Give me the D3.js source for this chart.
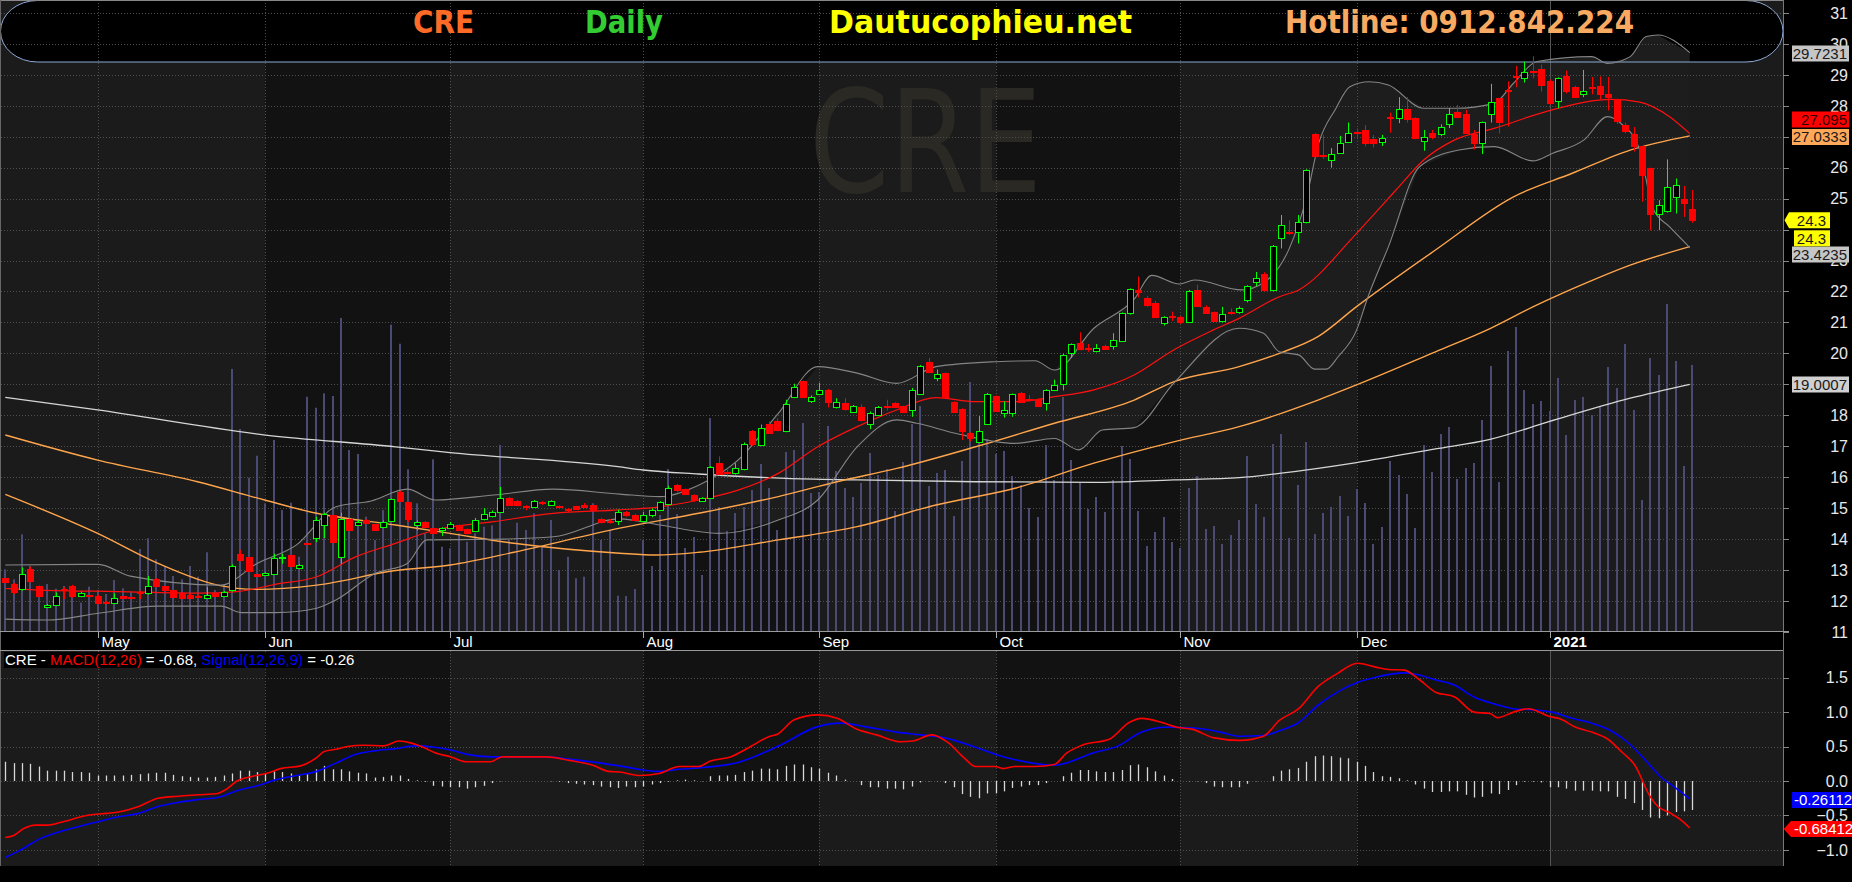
<!DOCTYPE html>
<html>
<head>
<meta charset="utf-8">
<script src="https://cdn.jsdelivr.net/npm/d3@7"></script>
<style>
  html, body { margin: 0; padding: 0; background: #000; overflow: hidden; }
  svg { display: block; }
</style>
</head>
<body>
<div id="chart"></div>
<script>
// ---- data (bar index 0 = mid April 2020) ----
const months = ["May", "Jun", "Jul", "Aug", "Sep", "Oct", "Nov", "Dec", "2021"];
const monthIdx = [11, 31, 53, 76, 97, 118, 140, 161, 184];
// 19, 24 and 27 sit under the value tags, so they are not printed
const priceTicks = [11, 12, 13, 14, 15, 16, 17, 18, 19, 20, 21, 22, 23, 24, 25, 26, 27, 28, 29, 30, 31];
const hiddenTicks = [19, 24, 27];
const macdTicks = [-1.0, -0.5, 0.0, 0.5, 1.0, 1.5];

// [open, high, low, close]
const candles = [
  [12.73,12.80,12.55,12.62],[12.54,12.58,12.22,12.30],[12.38,13.08,12.33,12.87],[13.03,13.10,12.60,12.63],[12.48,12.50,11.95,12.16],
  [11.79,11.90,11.77,11.86],[11.86,12.27,11.84,12.16],[12.38,12.44,12.06,12.36],[12.48,12.52,12.10,12.16],[12.16,12.30,12.12,12.25],
  [12.18,12.22,12.12,12.16],[12.16,12.20,11.90,11.92],[11.95,12.00,11.90,11.93],[11.92,12.24,11.90,12.09],[12.16,12.18,12.05,12.08],
  [12.14,12.18,12.08,12.12],[12.28,12.33,12.06,12.26],[12.24,12.80,12.20,12.48],[12.71,12.73,12.44,12.47],[12.49,12.52,12.32,12.35],
  [12.35,12.37,12.12,12.14],[12.25,12.27,12.06,12.08],[12.20,12.22,12.06,12.08],[12.17,12.20,12.12,12.15],[12.09,12.45,12.07,12.19],
  [12.26,12.28,12.14,12.16],[12.16,12.32,12.14,12.28],[12.35,13.18,12.30,13.13],[13.52,13.65,13.28,13.32],[13.43,13.45,12.92,12.95],
  [12.87,12.95,12.76,12.79],[12.82,12.93,12.80,12.90],[12.87,13.52,12.84,13.39],[13.39,13.52,13.20,13.43],[13.49,13.52,13.10,13.12],
  [13.06,13.19,13.04,13.16],[13.88,13.88,13.20,13.86],[14.03,14.72,13.90,14.60],[14.46,14.85,14.03,14.81],[14.79,14.82,13.88,13.90],
  [13.41,14.85,13.20,14.63],[14.63,14.66,14.26,14.29],[14.46,14.62,14.42,14.55],[14.61,14.64,14.50,14.52],[14.47,14.49,14.27,14.29],
  [14.38,14.60,14.35,14.56],[14.59,15.31,14.56,15.28],[15.51,15.56,15.20,15.22],[15.18,15.20,14.55,14.63],[14.46,14.60,14.28,14.55],
  [14.55,14.58,14.36,14.38],[14.36,14.40,13.90,14.20],[14.29,14.38,14.10,14.36],[14.37,14.55,14.35,14.47],[14.44,14.47,14.26,14.28],
  [14.32,14.34,14.18,14.20],[14.26,14.68,14.24,14.62],[14.63,15.00,14.60,14.81],[14.75,14.92,14.70,14.88],[14.88,15.68,14.86,15.33],
  [15.33,15.36,15.07,15.09],[15.24,15.26,15.08,15.10],[15.07,15.09,14.93,15.05],[15.04,15.26,15.00,15.24],[15.18,15.22,15.10,15.16],
  [15.11,15.25,15.09,15.23],[15.06,15.08,15.02,15.04],[14.98,15.00,14.85,14.96],[15.05,15.07,14.95,14.97],[15.11,15.16,15.00,15.03],
  [15.11,15.13,14.50,14.94],[14.65,14.68,14.50,14.56],[14.58,14.65,14.50,14.56],[14.57,14.95,14.45,14.87],
  [14.86,14.90,14.72,14.76],[14.79,14.81,14.56,14.60],[14.57,14.88,14.55,14.76],[14.78,14.99,14.70,14.95],[14.94,15.22,14.90,15.18],
  [15.13,15.72,15.10,15.65],[15.75,15.78,15.52,15.57],[15.60,15.63,15.43,15.46],[15.41,15.44,15.20,15.27],[15.22,15.35,15.20,15.31],
  [15.33,16.36,15.30,16.33],[16.45,16.67,16.06,16.11],[16.16,16.24,16.05,16.14],[16.13,16.45,16.08,16.30],[16.26,17.12,16.22,17.08],
  [17.49,17.52,17.00,17.06],[17.04,17.70,17.00,17.58],[17.73,17.80,17.40,17.43],[17.81,17.90,17.48,17.53],[17.49,18.50,17.45,18.36],
  [18.59,19.02,18.55,18.92],[19.10,19.12,18.57,18.59],[18.46,18.64,18.40,18.59],[18.70,19.05,18.65,18.83],[18.83,18.85,18.25,18.43],
  [18.27,18.55,18.22,18.44],[18.38,18.55,18.15,18.19],[18.12,18.33,18.10,18.30],[18.25,18.35,17.80,17.84],[17.73,18.12,17.55,18.07],
  [18.02,18.30,18.00,18.27],[18.30,18.50,18.15,18.28],[18.38,18.42,18.25,18.27],[18.29,18.31,18.08,18.11],[18.18,18.88,17.95,18.83],
  [18.70,19.62,18.68,19.59],[19.71,19.85,19.38,19.41],[19.21,19.48,19.10,19.32],[19.35,19.38,18.57,18.59],[18.42,18.45,18.08,18.10],
  [18.19,18.22,17.20,17.49],[17.41,17.44,17.15,17.26],[17.14,17.97,17.10,17.50],[17.73,18.72,17.70,18.70],[18.61,18.64,18.12,18.14],
  [18.07,18.45,17.92,18.16],[18.07,18.70,17.95,18.67],[18.73,18.75,18.40,18.43],[18.52,18.65,18.45,18.50],[18.51,18.54,18.28,18.31],
  [18.41,18.84,18.15,18.81],[18.80,19.15,18.78,18.99],[19.02,19.99,18.80,19.96],[20.00,20.32,19.85,20.29],[20.34,20.68,20.10,20.14],
  [20.16,20.30,20.05,20.14],[20.06,20.30,20.03,20.16],[20.25,20.28,20.12,20.15],[20.25,20.65,20.12,20.42],[20.41,21.32,20.38,21.29],
  [21.31,22.10,21.25,22.07],[22.05,22.48,21.80,21.98],[21.80,21.85,21.50,21.56],[21.64,21.70,21.15,21.18],[20.99,21.20,20.90,21.16],
  [21.22,21.35,21.05,21.20],[21.16,21.20,20.95,21.02],[21.02,22.05,20.98,22.00],[22.05,22.22,21.50,21.54],[21.51,21.55,21.28,21.31],
  [21.32,21.35,21.02,21.05],[21.05,21.50,21.00,21.26],[21.35,21.45,21.25,21.33],[21.34,21.52,21.28,21.45],
  [21.71,22.20,21.65,22.17],[22.31,22.63,22.17,22.45],[22.58,22.62,22.00,22.06],[22.04,23.50,22.00,23.47],[23.74,24.47,23.39,24.16],
  [23.92,24.30,23.82,23.90],[23.91,24.47,23.55,24.23],[24.23,25.95,24.20,25.91],[27.09,27.12,26.35,26.39],[26.41,27.05,26.28,26.39],
  [26.25,26.63,26.00,26.43],[26.49,27.03,26.45,26.81],[26.84,27.46,26.80,27.11],[27.15,27.27,26.92,27.13],[27.22,27.38,26.69,26.81],
  [26.92,27.06,26.65,26.81],[26.84,27.06,26.70,26.97],[27.64,27.78,27.13,27.62],[27.61,28.28,27.44,27.89],[27.89,28.28,27.46,27.57],
  [27.60,27.63,26.92,26.95],[26.86,27.22,26.55,27.00],[27.11,27.22,26.92,26.98],[27.08,27.40,27.02,27.31],[27.41,27.93,27.28,27.72],
  [27.79,28.03,27.60,27.65],[27.72,27.87,27.11,27.13],[27.08,27.22,26.59,26.81],[26.81,27.49,26.44,27.49],[27.74,28.71,27.46,28.11],
  [28.25,28.25,27.11,27.49],[28.51,28.79,27.33,28.49],[28.97,29.29,28.60,28.95],[28.90,29.43,28.75,29.09],[29.11,29.60,28.89,29.09],
  [29.19,29.33,28.46,28.68],[28.81,28.85,28.05,28.08],[28.15,28.92,27.92,28.89],[28.97,29.14,28.40,28.47],[28.60,28.65,28.25,28.28],
  [28.38,29.16,28.28,28.48],[28.62,28.93,28.37,28.60],[28.65,28.95,28.20,28.38],[28.38,28.93,27.85,28.28],[28.21,28.23,27.41,27.51],
  [27.38,27.46,27.11,27.19],[27.09,27.31,26.52,26.70],[26.70,26.70,24.90,25.78],[25.98,26.00,23.98,24.49],[24.49,24.95,23.98,24.78],
  [24.59,26.27,24.55,25.38],[25.06,25.65,24.52,25.44],[24.98,25.41,24.41,24.86],[24.68,25.28,24.22,24.30]
];

// volume, thousand shares
const volume = [
  617,517,967,653,410,470,423,450,443,283, 443,410,370,510,427,393,820,927,717,650,
  550,517,650,543,787,410,470,2620,2020,1533, 1753,1277,1910,1210,1283,743,2343,2233,2377,2350,
  3130,1810,1770,1143,910,1210,3063,2873,1617,1277, 977,1717,843,827,977,893,977,1043,1057,1860,
  910,1083,1010,1177,843,1110,610,743,527,543, 1277,910,1010,353,
  350,420,910,650,1160,1620,1170,830,940,560, 2130,1240,1000,1180,1240,1410,1670,1430,1010,1790,
  1810,2080,1380,1390,2050,1600,1430,1340,1480,1780, 1560,1620,1200,1690,2070,2250,1450,1580,1610,1150,
  1700,2490,1950,1920,1770,1800,1550,1460,1230,1140, 1860,1510,2340,1710,1480,1220,1340,1190,1510,1850,
  1720,1200,850,990,1140,890,830,1430,1550,1020, 1050,870,960,1110,
  1750,1270,1140,1870,1970,930,1460,1890,970,1180, 1240,1350,1150,1420,1280,870,1040,1700,1560,1370,
  1030,1860,1590,1970,2040,1520,1630,1680,2110,2650, 1490,2800,3040,2410,2270,2300,2200,2530,1960,2310,
  2340,2160,2240,2640,2430,2870,2210,1310,2730,2560, 3270,2700,1650,2660
];

// moving averages and Bollinger bands, [bar index, value]
const ma20 = [[0,12.40],[4.1,12.35],[13.5,12.30],[22.9,12.25],[27.6,12.30],[32.3,12.54],[37.1,12.78],[41.8,13.43],[46.5,13.86],
  [51.2,14.29],[58.2,14.56],[65.3,14.83],[73.2,14.94],[78,15.04],[82.6,15.26],[87.3,15.58],[92.1,16.12],[96.8,16.98],
  [101.5,17.63],[106.2,18.17],[110.9,18.57],[115.6,18.44],[120.3,18.44],[125,18.60],[129.7,18.82],[134.5,19.30],
  [139.2,20.11],[143.9,20.75],[147,21.13],[151.8,21.83],[154.1,22.05],[161,23.88],[165.7,25.28],[169,26.25],
  [172.7,26.90],[177.4,27.27],[184.3,27.87],[191.3,28.21],[194.6,28.13],[198.3,27.65],[200.7,27.10]];
const ma50 = [[0,15.44],[11,14.18],[18.2,13.21],[25.3,12.51],[30,12.37],[37.1,12.51],[46.5,12.98],[53,13.16],[60.6,13.57],
  [73.2,14.35],[82.6,14.83],[92.1,15.37],[99.1,15.85],[106.2,16.28],[115.6,16.98],[125,17.74],[134.5,18.49],[139.2,19.08],
  [147,19.57],[151.8,20.00],[156.4,20.54],[161,21.51],[170.4,23.34],[179.7,25.06],[186.7,25.82],[193.6,26.57],[200.7,27.03]];
const ma100 = [[0,17.36],[11,16.55],[22.9,15.85],[30.9,15.26],[37.1,14.83],[46.5,14.45],[53,14.18],[60.6,13.86],[73.2,13.54],
  [77.5,13.48],[82.6,13.57],[92.1,13.97],[101.5,14.40],[110.9,15.10],[120.3,15.64],[129.7,16.45],[139.2,17.14],[147,17.63],
  [156.4,18.49],[161,18.98],[170.4,20.05],[176.9,20.80],[182,21.50],[189,22.35],[193.6,22.85],[200.7,23.45]];
const ma200 = [[0,18.58],[11,18.17],[31,17.36],[46.5,16.98],[53,16.79],[73,16.34],[76,16.23],[82.6,16.10],[93,15.96],
  [101.5,15.91],[115.6,15.85],[129.8,15.83],[139.2,15.91],[147,15.98],[151.8,16.12],[161,16.47],[170.4,16.91],
  [176.9,17.22],[183.9,17.79],[193.6,18.55],[200.7,19.00]];
const bbUpper = [[0,13.16],[11.1,13.18],[14.9,12.80],[25.7,12.51],[30,13.21],[34.7,13.81],[39.4,15.04],[43.6,15.23],[47.9,15.61],
  [51.2,15.26],[58.2,15.42],[65.3,15.61],[73.2,15.45],[78,15.37],[82.6,15.74],[87.3,16.55],[92.1,18.06],[96.8,19.57],
  [101.5,19.36],[106.2,19.03],[110.9,19.57],[118,19.73],[122.7,19.76],[125,19.46],[129.7,20.81],[134.5,21.75],[136.6,22.52],
  [139.9,22.24],[141.7,22.37],[147.3,22.05],[150,22.30],[153,23.40],[155,25.00],[156.5,26.80],[158.5,27.90],[160.2,28.62],
  [162.5,28.78],[164.8,28.67],[169,27.92],[172.7,27.92],[177.4,28.08],[179.7,28.73],[182.5,29.43],[189,29.59],[190.9,29.37],
  [193.6,29.59],[195.5,30.24],[196.9,30.29],[200.7,29.72]];
const bbLower = [[0,11.41],[5,11.38],[11.1,11.60],[18.2,11.83],[25.7,11.83],[28.1,11.62],[32.3,11.62],[37.1,11.76],[39.4,12.03],
  [44.1,12.89],[47.9,13.21],[50.2,13.97],[58.2,13.99],[65.3,14.07],[73.2,14.65],[78,14.45],[85,14.18],[92.1,14.61],
  [96.8,15.26],[101.5,16.98],[106.2,17.85],[108.6,17.74],[113.3,17.41],[120.3,17.09],[125,17.25],[127.9,16.88],[130.7,17.52],
  [134.5,17.60],[139.2,19.03],[147,20.81],[149.9,20.65],[151.8,20.05],[154.1,19.95],[156,19.49],[157.4,19.49],[158.8,19.89],
  [161,20.75],[162.3,21.78],[164.8,23.45],[168.5,26.03],[173.2,26.57],[177.4,26.68],[182,26.22],[184.3,26.46],[188.1,26.90],
  [190.9,27.65],[192.7,27.38],[194.6,26.68],[196.4,24.63],[198.3,24.09],[200.7,23.42]];

// MACD(12,26) and signal(9), [bar index, value]
const macdLine = [[0,-0.82],[1,-0.79],[2.2,-0.69],[3.6,-0.64],[5,-0.64],[6.9,-0.59],[9.7,-0.50],[12.1,-0.47],[13.5,-0.45],
  [15.9,-0.37],[18.2,-0.25],[20.6,-0.22],[22.9,-0.20],[25.3,-0.18],[26.2,-0.13],[27.6,0.00],[29.5,0.07],[31.4,0.12],
  [32.8,0.18],[35.2,0.22],[37.1,0.34],[38,0.43],[39.4,0.46],[40.8,0.50],[42.7,0.52],[45.1,0.51],[46.9,0.58],[48.4,0.55],
  [49.8,0.49],[51.2,0.41],[53.1,0.35],[54.9,0.28],[57.8,0.28],[59.2,0.35],[64.4,0.35],[67.2,0.30],[70,0.23],[71.9,0.14],
  [73.2,0.13],[75.6,0.08],[77.9,0.11],[80.3,0.21],[82.6,0.21],[84,0.29],[86.4,0.35],[88.8,0.50],[91.1,0.65],[92,0.68],
  [94,0.89],[96.8,0.96],[99.1,0.91],[101.5,0.75],[103.8,0.67],[106.7,0.57],[108.1,0.58],[110.4,0.67],[112.3,0.56],
  [114.2,0.34],[115.6,0.21],[117.9,0.21],[118.9,0.18],[120.3,0.21],[122.7,0.21],[125,0.24],[126.4,0.40],[128.3,0.52],
  [131.6,0.61],[133.9,0.85],[135.4,0.91],[137.8,0.85],[139.6,0.78],[141.5,0.75],[143.9,0.63],[147.1,0.59],[149.9,0.65],
  [151.8,0.88],[154.1,1.05],[156.4,1.37],[158.7,1.56],[161.1,1.71],[163.4,1.65],[164.8,1.62],[166.7,1.61],[168.5,1.47],
  [170.4,1.29],[172.7,1.22],[175,1.00],[176.9,0.98],[177.8,0.92],[179.7,1.00],[181.5,1.05],[183.9,0.94],[185.3,0.90],
  [187.1,0.78],[189,0.71],[190.9,0.61],[192.7,0.41],[194.1,0.24],[196,-0.23],[196.9,-0.37],[198.3,-0.46],[199.7,-0.57],
  [200.7,-0.68]];
const signalLine = [[0,-1.11],[1.7,-1.01],[4.1,-0.84],[6.4,-0.74],[8.8,-0.66],[11.1,-0.59],[13.5,-0.52],[15.9,-0.47],
  [18.2,-0.37],[20.6,-0.31],[22.9,-0.27],[25.3,-0.24],[27.6,-0.14],[30,-0.07],[32.3,0.02],[34.7,0.08],[37.1,0.14],
  [39.4,0.26],[41.8,0.39],[44.1,0.44],[46.5,0.47],[48.8,0.51],[51.2,0.49],[53.1,0.45],[54.9,0.39],[57.8,0.35],[64.4,0.35],
  [67.7,0.31],[71,0.26],[73.2,0.22],[76,0.16],[77.9,0.14],[80.3,0.17],[82.6,0.19],[87.3,0.27],[92,0.50],[96.8,0.79],
  [99.6,0.84],[102.4,0.79],[106.2,0.71],[109,0.67],[111.8,0.63],[115.6,0.49],[117.9,0.39],[120.3,0.31],[125,0.23],
  [129.7,0.41],[132.6,0.51],[135.4,0.71],[138.2,0.78],[141.5,0.77],[144.8,0.71],[147.1,0.65],[149.9,0.66],[151.8,0.73],
  [154.1,0.85],[156.4,1.10],[158.7,1.29],[161.1,1.43],[163.4,1.51],[166.7,1.57],[168,1.55],[170.4,1.47],[172.7,1.39],
  [175,1.22],[177.4,1.12],[179.7,1.05],[182.5,1.03],[184.3,1.00],[186.7,0.91],[189,0.84],[191.3,0.73],[193.6,0.53],
  [195.5,0.29],[197.4,0.04],[198.8,-0.08],[200.7,-0.26]];
// MACD histogram, one per bar
const hist = [
  0.28,0.26,0.26,0.25,0.21,0.15,0.15,0.15,0.13,0.13, 0.12,0.08,0.08,0.08,0.08,0.09,0.10,0.11,0.12,0.12,
  0.09,0.07,0.06,0.05,0.05,0.06,0.08,0.11,0.15,0.15, 0.13,0.11,0.14,0.13,0.11,0.08,0.11,0.17,0.22,0.17,
  0.17,0.14,0.12,0.11,0.05,0.06,0.08,0.08,0.03,0.01, -0.01,-0.07,-0.08,-0.09,-0.09,-0.11,-0.09,-0.07,-0.03,-0.005,
  0,0,0,0,0,-0.005,-0.01,-0.03,-0.04,-0.05, -0.06,-0.08,-0.09,-0.10,
  -0.08,-0.09,-0.08,-0.05,-0.03,-0.01,0.01,0.02,0.01,-0.005, 0.07,0.08,0.08,0.09,0.13,0.15,0.18,0.18,0.17,0.22,
  0.24,0.24,0.20,0.18,0.12,0.08,0.02,0,-0.06,-0.09, -0.09,-0.11,-0.11,-0.12,-0.08,-0.02,-0.005,-0.005,-0.03,-0.09,
  -0.19,-0.23,-0.25,-0.18,-0.18,-0.15,-0.10,-0.08,-0.06,-0.06, -0.03,0,0.07,0.12,0.16,0.16,0.14,0.13,0.13,0.16,
  0.23,0.24,0.20,0.14,0.08,0.03,0,-0.005,-0.005,-0.03, -0.08,-0.09,-0.09,-0.09,
  -0.04,-0.005,0,0.07,0.15,0.17,0.19,0.28,0.36,0.37, 0.36,0.34,0.33,0.28,0.22,0.13,0.07,0.06,0.04,0.01,
  -0.05,-0.11,-0.16,-0.16,-0.15,-0.15,-0.20,-0.24,-0.23,-0.18, -0.19,-0.13,-0.06,-0.01,-0.01,-0.02,-0.09,-0.09,-0.11,-0.14,
  -0.14,-0.14,-0.15,-0.15,-0.23,-0.26,-0.32,-0.42,-0.53,-0.54, -0.50,-0.45,-0.44,-0.42
];

// value tags on the right axis
const priceTags = [
  { text: "29.7231", cy: 53.5, bg: "#c6c6c6", fg: "#1a1a1a" },
  { text: "27.095", cy: 119.5, bg: "#ff0000", fg: "#2a0000" },
  { text: "27.0333", cy: 137, bg: "#ffa85a", fg: "#1a1a1a" },
  { text: "23.4235", cy: 254.5, bg: "#c6c6c6", fg: "#1a1a1a" },
  { text: "19.0007", cy: 384.5, bg: "#d0d0d0", fg: "#1a1a1a" }
];
const closeTags = ["24.3", "24.3"];
const macdTags = [
  { text: "-0.26112", cy: 800, bg: "#0000ff", arrow: false },
  { text: "-0.68412", cy: 829, bg: "#ff0000", arrow: true }
];

// ---- layout ----
const W = 1852, H = 882;
const plotR = 1783;
const priceBot = 631, bandTop = 632, bandBot = 650, macdTop = 651, macdBot = 866;

const x = d3.scaleLinear().domain([0, 201]).range([5.3, 1692.3]);
const y = d3.scaleLinear().domain([11, 31]).range([631.8, 13]);
const yVol = d3.scaleLinear().domain([0, 3300]).range([priceBot, priceBot - 330]);
const yM = d3.scaleLinear().domain([-1, 1.5]).range([849.9, 677.7]);

const svg = d3.select("#chart").append("svg")
  .attr("width", W).attr("height", H)
  .style("font-family", "'Liberation Sans', Arial, sans-serif");

svg.append("rect").attr("width", W).attr("height", H).attr("fill", "#000");

// month shading in both panels
const darkMonths = [[31, 53], [76, 97], [118, 140], [161, 184]];
[[0, priceBot], [macdTop, macdBot]].forEach(([t, b]) => {
  svg.append("rect").attr("x", 0).attr("y", t).attr("width", plotR).attr("height", b - t).attr("fill", "#1b1b1b");
  darkMonths.forEach(([a, e]) => {
    svg.append("rect")
      .attr("x", Math.round(x(a))).attr("y", t)
      .attr("width", Math.round(x(e)) - Math.round(x(a))).attr("height", b - t)
      .attr("fill", "#121212");
  });
});

// header pill background
svg.append("rect")
  .attr("x", 0.5).attr("y", 0.5).attr("width", plotR - 0.5).attr("height", 61.5)
  .attr("rx", 37).attr("ry", 30.75)
  .attr("fill", "#000");

// watermark
svg.append("text")
  .attr("x", 809).attr("y", 192)
  .attr("textLength", 233).attr("lengthAdjust", "spacingAndGlyphs")
  .style("font-family", "'DejaVu Sans Condensed', 'DejaVu Sans', sans-serif")
  .style("font-size", "143px")
  .attr("fill", "#2a2924")
  .text("CRE");

// Bollinger fill
const toPt = d => [x(d[0]), y(d[1])];
const bandPts = bbUpper.map(toPt).concat(bbLower.slice().reverse().map(toPt));
svg.append("path")
  .attr("d", d3.line().curve(d3.curveLinear)(bandPts) + "Z")
  .attr("fill", "#1d1d1d");

// grid
const grid = svg.append("g").attr("stroke", "#4e4e4e").attr("stroke-dasharray", "1,2");
priceTicks.forEach(p => {
  const yy = Math.round(y(p)) + 0.5;
  grid.append("line").attr("x1", 1).attr("x2", plotR).attr("y1", yy).attr("y2", yy);
});
macdTicks.forEach(v => {
  const yy = Math.round(yM(v)) + 0.5;
  grid.append("line").attr("x1", 1).attr("x2", plotR).attr("y1", yy).attr("y2", yy);
});
monthIdx.forEach((i, k) => {
  const xx = Math.round(x(i)) + 0.5;
  [[0, priceBot], [macdTop, macdBot]].forEach(([t, b]) => {
    const ln = svg.append("line").attr("x1", xx).attr("x2", xx).attr("y1", t).attr("y2", b);
    if (months[k] === "2021") ln.attr("stroke", "#555");
    else ln.attr("stroke", "#4e4e4e").attr("stroke-dasharray", "1,2");
  });
});

// header outline
svg.append("rect")
  .attr("x", 0.5).attr("y", 0.5).attr("width", plotR - 0.5).attr("height", 61.5)
  .attr("rx", 37).attr("ry", 30.75)
  .attr("fill", "none").attr("stroke", "#8eaad6");

// volume
svg.append("g").selectAll("rect").data(volume).join("rect")
  .attr("x", (d, i) => Math.round(x(i)) - 1)
  .attr("y", d => yVol(d))
  .attr("width", 2)
  .attr("height", d => priceBot - yVol(d))
  .attr("fill", "#4a4a72");

// indicator lines
const line = d3.line().x(d => x(d[0])).y(d => y(d[1])).curve(d3.curveMonotoneX);
[[ma200, "#d6d6d6", 1.3], [ma100, "#ffa54c", 1.4], [ma50, "#ffa54c", 1.4],
 [bbUpper, "#858585", 1.1], [bbLower, "#858585", 1.1], [ma20, "#ff1010", 1.2]].forEach(([d, c, w]) => {
  svg.append("path").attr("d", line(d)).attr("fill", "none").attr("stroke", c).attr("stroke-width", w);
});

// candles
const cg = svg.append("g");
candles.forEach((d, i) => {
  const [o, h, l, c] = d;
  const up = c >= o;
  const col = up ? "#00ff00" : "#ff0000";
  const cx = Math.round(x(i));
  const top = Math.round(y(Math.max(o, c)));
  const bot = Math.round(y(Math.min(o, c)));
  cg.append("line")
    .attr("x1", cx + 0.5).attr("x2", cx + 0.5)
    .attr("y1", y(h)).attr("y2", y(l))
    .attr("stroke", col);
  if (up) {
    cg.append("rect")
      .attr("x", cx - 2.5).attr("y", top + 0.5)
      .attr("width", 6).attr("height", Math.max(1, bot - top))
      .attr("fill", "#000").attr("stroke", col);
  } else {
    cg.append("rect")
      .attr("x", cx - 3).attr("y", top)
      .attr("width", 7).attr("height", Math.max(2, bot - top + 1))
      .attr("fill", col);
  }
});

// header texts
const hdr = [
  ["CRE", 413, 61, "#ff6a26"],
  ["Daily", 585, 78, "#33cc33"],
  ["Dautucophieu.net", 829, 303, "#ffff00"],
  ["Hotline: 0912.842.224", 1285, 349, "#f8aa62"]
];
hdr.forEach(([t, hx, hw, c]) => {
  svg.append("text")
    .attr("x", hx).attr("y", 33)
    .attr("textLength", hw).attr("lengthAdjust", "spacingAndGlyphs")
    .style("font-family", "'DejaVu Sans Condensed', 'DejaVu Sans', sans-serif")
    .style("font-weight", "bold").style("font-size", "32px")
    .attr("fill", c).text(t);
});

// frame
const frame = svg.append("g");
frame.append("line").attr("x1", 0).attr("x2", plotR).attr("y1", 0.5).attr("y2", 0.5).attr("stroke", "#888");
frame.append("line").attr("x1", 0.5).attr("x2", 0.5).attr("y1", 0).attr("y2", macdBot).attr("stroke", "#666");
frame.append("line").attr("x1", plotR + 0.5).attr("x2", plotR + 0.5).attr("y1", 0).attr("y2", macdBot).attr("stroke", "#777");
svg.append("rect").attr("x", 1).attr("y", bandTop).attr("width", plotR - 1).attr("height", bandBot - bandTop).attr("fill", "#000");
frame.append("line").attr("x1", 0).attr("x2", plotR + 6).attr("y1", priceBot + 0.5).attr("y2", priceBot + 0.5).attr("stroke", "#9a9a9a");
frame.append("line").attr("x1", 0).attr("x2", plotR).attr("y1", bandBot + 0.5).attr("y2", bandBot + 0.5).attr("stroke", "#9a9a9a");

// month labels
monthIdx.forEach((i, k) => {
  const xx = Math.round(x(i)) + 0.5;
  svg.append("line").attr("x1", xx).attr("x2", xx).attr("y1", bandTop).attr("y2", bandTop + 6).attr("stroke", "#aaa");
  svg.append("text")
    .attr("x", xx + 3).attr("y", 646.5)
    .style("font-size", "15px")
    .style("font-weight", months[k] === "2021" ? "bold" : "normal")
    .attr("fill", "#fff").text(months[k]);
});

// price axis
priceTicks.forEach(p => {
  const yy = Math.round(y(p)) + 0.5;
  svg.append("line").attr("x1", plotR).attr("x2", plotR + 6).attr("y1", yy).attr("y2", yy).attr("stroke", "#888");
  if (hiddenTicks.includes(p)) return;
  svg.append("text")
    .attr("x", 1848).attr("y", y(p) + 5.7)
    .attr("text-anchor", "end").style("font-size", "16px")
    .attr("fill", "#e8e8e8").text(p);
});
priceTags.forEach(t => {
  svg.append("rect").attr("x", 1792).attr("y", t.cy - 8).attr("width", 57).attr("height", 16).attr("fill", t.bg);
  svg.append("text")
    .attr("x", 1847).attr("y", t.cy + 5.3)
    .attr("text-anchor", "end").style("font-size", "15px")
    .attr("fill", t.fg).text(t.text);
});
// last close tags (yellow)
const closeY = y(candles[candles.length - 1][3]);
svg.append("path")
  .attr("d", `M1784.5,${closeY} L1789,${closeY - 8} L1830,${closeY - 8} L1830,${closeY + 8} L1789,${closeY + 8} Z`)
  .attr("fill", "#ffff00");
svg.append("rect").attr("x", 1794).attr("y", closeY + 10).attr("width", 36).attr("height", 16).attr("fill", "#ffff00");
closeTags.forEach((t, k) => {
  svg.append("text")
    .attr("x", 1826).attr("y", closeY + 5.3 + k * 18)
    .attr("text-anchor", "end").style("font-size", "15px")
    .attr("fill", "#1a1a1a").text(t);
});

// MACD panel
svg.append("g").selectAll("line").data(hist).join("line")
  .attr("x1", (d, i) => Math.round(x(i)) + 0.5)
  .attr("x2", (d, i) => Math.round(x(i)) + 0.5)
  .attr("y1", yM(0))
  .attr("y2", d => yM(d))
  .attr("stroke", "#d8d8d8").attr("stroke-width", 1.3);

const mline = d3.line().x(d => x(d[0])).y(d => yM(d[1])).curve(d3.curveMonotoneX);
svg.append("path").attr("d", mline(signalLine)).attr("fill", "none").attr("stroke", "#0000ff").attr("stroke-width", 1.6);
svg.append("path").attr("d", mline(macdLine)).attr("fill", "none").attr("stroke", "#ff0000").attr("stroke-width", 1.6);

// MACD legend
svg.append("rect").attr("x", 4).attr("y", 652).attr("width", 341).attr("height", 16).attr("fill", "#000");
const leg = svg.append("text").attr("x", 5).attr("y", 665).style("font-size", "15px");
[["CRE - ", "#fff"], ["MACD(12,26)", "#ff0000"], [" = -0.68, ", "#fff"],
 ["Signal(12,26,9)", "#0000ff"], [" = -0.26", "#fff"]].forEach(([t, c]) => {
  leg.append("tspan").attr("fill", c).text(t);
});

// MACD axis
macdTicks.forEach(v => {
  const yy = Math.round(yM(v)) + 0.5;
  svg.append("line").attr("x1", plotR).attr("x2", plotR + 6).attr("y1", yy).attr("y2", yy).attr("stroke", "#888");
  svg.append("text")
    .attr("x", 1848).attr("y", yM(v) + 5.7)
    .attr("text-anchor", "end").style("font-size", "16px")
    .attr("fill", "#e8e8e8").text(d3.format(".1f")(v));
});
macdTags.forEach(t => {
  const cy = t.cy;
  if (t.arrow) {
    svg.append("path")
      .attr("d", `M1783.7,${cy} L1791,${cy - 8} L1852,${cy - 8} L1852,${cy + 8} L1791,${cy + 8} Z`)
      .attr("fill", t.bg);
  } else {
    svg.append("rect").attr("x", 1792).attr("y", cy - 8).attr("width", 60).attr("height", 16).attr("fill", t.bg);
  }
  svg.append("text")
    .attr("x", 1794).attr("y", cy + 5.3)
    .style("font-size", "15px")
    .attr("fill", "#fff").text(t.text);
});
</script>
</body>
</html>
